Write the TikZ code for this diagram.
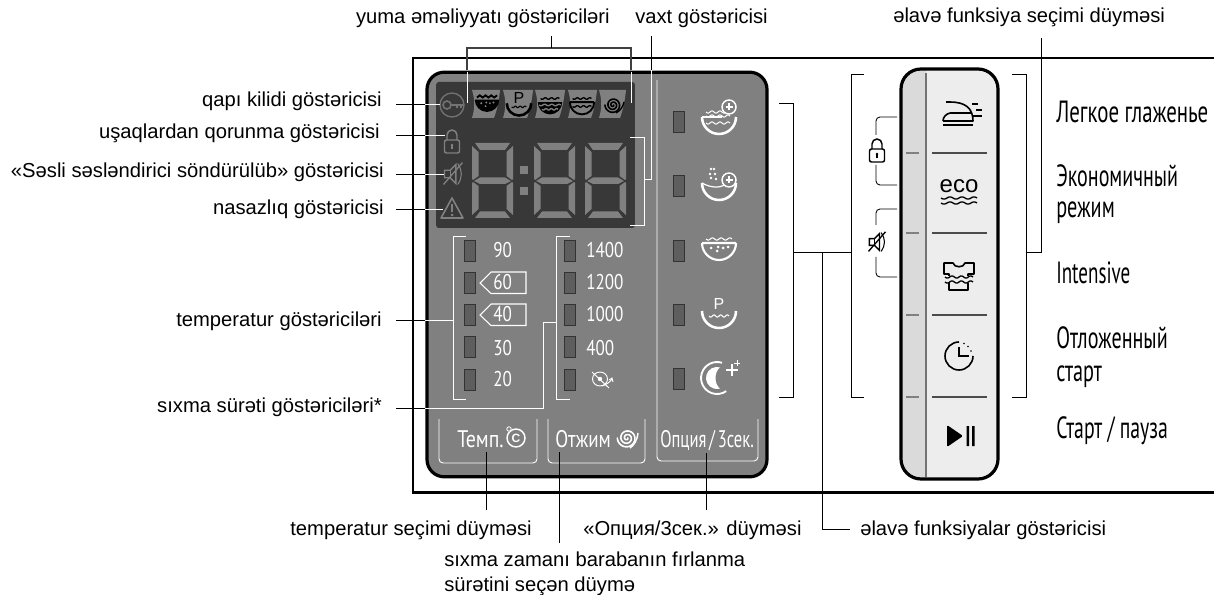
\documentclass[tikz,border=0pt]{standalone}
\usepackage{fontspec}
\usepackage{graphicx}
\setmainfont{Liberation Sans}
\newfontfamily\cond{PT Sans}
\newcommand{\nar}[2][0.68]{\scalebox{#1}[1]{\cond #2}}
\newcommand{\wv}[4][]{\draw[#1] plot[domain=0:1,samples=31] ({#2+#4*\x},{#3+1.1*sin(3*360*\x)});}
\definecolor{panelgray}{HTML}{808080}
\definecolor{dispdark}{HTML}{383838}
\definecolor{ledgray}{HTML}{5E5E5E}
\definecolor{btnlight}{HTML}{EDEDED}
\definecolor{btnstrip}{HTML}{DADADA}
\tikzset{
 lbl/.style={font=\fontsize{15.15pt}{17pt}\selectfont,inner sep=0pt,text=black},
 ln/.style={draw=black,line width=0.65pt},
 wln/.style={draw=white,line width=0.7pt},
 led/.style={draw=black!80,fill=ledgray,line width=0.7pt,minimum width=8.5pt,minimum height=15.5pt,inner sep=0pt},
 num/.style={font=\fontsize{16pt}{16pt}\selectfont,text=white,inner sep=0pt,anchor=base west},
 rlab/.style={font=\fontsize{23pt}{25pt}\selectfont,inner sep=0pt,anchor=base west,text=black},
 seg/.style={fill=panelgray,draw=none},
 pics/digit/.style={code={
  \fill[seg] (3,0)--(38,0)--(33,7)--(8,7)--cycle;
  \fill[seg] (0,3)--(6.5,9)--(6.5,33)--(1,37)--(0,36)--cycle;
  \fill[seg] (41,3)--(34.5,9)--(34.5,33)--(40,37)--(41,36)--cycle;
  \fill[seg] (2,38)--(8,34.5)--(33,34.5)--(39,38)--(33,41)--(8,41)--cycle;
  \fill[seg] (0,40)--(1,39)--(6.5,43)--(6.5,66)--(0,72)--cycle;
  \fill[seg] (41,40)--(40,39)--(34.5,43)--(34.5,66)--(41,72)--cycle;
  \fill[seg] (3,75)--(38,75)--(33,68.5)--(8,68.5)--cycle;
 }},
 pics/washplus/.style={code={
  \draw[line width=1.9pt] (17,-5) arc (0:180:17);
  \draw[line width=0.9pt] (-17,-5)--(3,-5);
  \foreach \yy in {-10,-6,1}{\wv[line width=.8pt]{-13}{\yy}{24}}
  \draw[line width=1.1pt,fill=panelgray] (10,-15) circle (7);
  \draw[line width=1pt] (6.5,-15)--(13.5,-15) (10,-18.5)--(10,-11.5);
 }},
 pics/drainplus/.style={code={
  \draw[line width=1.9pt] (17,-3) arc (0:180:17);
  \draw[line width=0.9pt] (-17,-3) .. controls (-8,2) and (0,2) .. (6,-1);
  \foreach \a/\b in {-8/-17,-5/-17,-9/-12,-4/-12,-8/-8,-3/-7}{\fill (\a,\b) circle (1.4);}
  \draw[line width=1.1pt,fill=panelgray] (10,-6) circle (7);
  \draw[line width=1pt] (6.5,-6)--(13.5,-6) (10,-9.5)--(10,-2.5);
 }},
 pics/soak/.style={code={
  \draw[line width=1.6pt] (17,-8)--(-17,-8) (17,-8) arc (0:180:17);
  \wv[line width=.8pt]{-13}{-12}{26}
  \foreach \a/\b in {-8/-3,-2/0,4/-3,9/-4,-1/-4}{\fill (\a,\b) circle (1.5);}
 }},
 pics/soakf/.style={code={
  \fill (17,-6)--(-17,-6) arc (180:0:17);
  \draw[line width=1.4pt] (-14,-9)--(-10,-12)--(-6,-9)--(-2,-12)--(2,-9)--(6,-12)--(10,-9)--(14,-12);
  \foreach \a/\b in {-8/-1,-2/3,4/-1,9/-2,-1/-2}{\fill[panelgray] (\a,\b) circle (1.5);}
 }},
 pics/ptub/.style={code={
  \draw[line width=1.9pt] (17,-1) arc (0:180:17);
  \wv[line width=.8pt]{-10}{4}{20}
  \node[font=\fontsize{12pt}{12pt}\selectfont,inner sep=0pt] at (0,-8) {P};
 }},
 pics/washf/.style={code={
  \fill (17,-4)--(-17,-4) arc (180:0:17);
  \wv[line width=1pt]{-13}{-9}{26}
  \wv[line width=1pt,panelgray]{-15}{0}{30}
  \wv[line width=1pt,panelgray]{-11}{6}{22}
 }},
 pics/washo/.style={code={
  \draw[line width=1.4pt] (17,-4)--(-17,-4) (17,-4) arc (0:180:17);
  \wv[line width=1pt]{-13}{-9}{26}
  \wv[line width=1pt]{-13}{2}{26}
 }},
 pics/spiral/.style={code={
  \draw[line width=1.2pt,line cap=round] plot[domain=0:900,samples=90] ({(1+\x/70)*cos(\x)},{(1+\x/70)*sin(\x)});
 }},
 pics/moon/.style={code={
  \draw[line width=1.4pt] (5,-15.2) arc (-72:-305:16);
  \fill (3,-10.6) arc (-74:-286:11) .. controls (-3,6) and (-3,-6) .. cycle;
  \draw[line width=.8pt] (9,-8)--(21,-8) (15,-14)--(15,-2);
  \draw[line width=.6pt] (17,-15)--(23,-15) (20,-18)--(20,-12);
 }},
 pics/lockicon/.style={code={
  \draw[line width=1.1pt,rounded corners=1.5pt] (-7.5,0) rectangle (7.5,13);
  \draw[line width=1.1pt] (-5,0)--(-5,-5) arc (180:360:5) --(5,0);
  \fill (0,5) circle (1.3); \fill (-0.6,5) rectangle (0.6,9);
 }},
 pics/muteicon/.style={code={
  \draw[line width=1pt] (-9,-4)--(-3,-4)--(3,-10)--(3,10)--(-3,4)--(-9,4)--cycle;
  \draw[line width=.8pt] (-3,-4)--(-3,4);
  \draw[line width=.8pt] (5,-11) .. controls (10,-4) and (10,4) .. (5,11);
  \draw[line width=1pt] (-10,11)--(10,-12);
 }},
}
\begin{document}
\begin{tikzpicture}[x=0.75pt,y=-0.75pt]
\useasboundingbox (0,0) rectangle (1214,595);
\fill[white] (0,0) rectangle (1214,595);
% frame
\coordinate (fTR) at (1214,58); \coordinate (fTL) at (413,58); \coordinate (fBL) at (413,492.5); \coordinate (fBR) at (1214,492.5);
\draw[line width=1.7pt,black] (fTR)--(fTL)--(fBL)--(fBR);
% panel
\node[draw=black,line width=2.4pt,fill=panelgray,rounded corners=13pt,minimum width=255pt,minimum height=303.5pt,inner sep=0pt] (panel) at (597,274.5) {};
\node[fill=dispdark,rounded corners=2pt,minimum width=149pt,minimum height=109.5pt,inner sep=0pt] (disp) at (535.5,155) {};
% tabs
\foreach \a/\b in {472/500,503/533,535/565,568/597,599/626}{
 \fill[panelgray] (\a,90)--(\b,90) .. controls (\b-1,100) and (\b-3,110) .. (\b-6,118)--(\a,118) .. controls (\a+3,108) and (\a+3,100) .. (\a,90)--cycle;}
\pic[black,scale=.72] at (487,104) {soakf};
\pic[black,scale=.72] at (519,104) {ptub};
\pic[black,scale=.72] at (550,105) {washf};
\pic[black,scale=.72] at (582,105) {washo};
\pic[black,scale=.58] at (613,105) {spiral};
\draw[black,line width=1pt] (616,113) .. controls (620,111) and (623,107) .. (624,102);
% digits
\pic at (472,143) {digit};
\pic at (534,143) {digit};
\pic at (585,143) {digit};
\fill[panelgray] (520,166) rectangle (528,174);
\fill[panelgray] (520,187) rectangle (528,195);
% status icons
\draw[color=panelgray!110,line width=1pt] (452,105) circle (12);
\draw[color=panelgray!110,line width=1.2pt] (447,105) circle (4);
\draw[color=panelgray!110,line width=1.2pt] (451,105)--(463,105) (457,105)--(457,108) (461,105)--(461,108);
\pic[color=panelgray] at (452,140) {lockicon};
\pic[color=panelgray,scale=.95] at (453,174) {muteicon};
\draw[color=panelgray,line width=1.2pt,line join=round] (452,198)--(463,218)--(441,218)--cycle;
\fill[color=panelgray] (451,204) rectangle (453.4,212);
\fill[color=panelgray] (452.2,215) circle (1.5);
% LEDs
\foreach \yy/\nn in {251/a,283/b,315/c,347/d,380/e}{
 \node[led] (t\nn) at (470,\yy) {};
 \node[led] (s\nn) at (570,\yy) {};}
\foreach \yy/\nn in {122/a,186/b,251/c,315/d,379/e}{
 \node[led] (o\nn) at (679,\yy) {};}
% temperature text
\node[num] (t90) at (493,258) {\nar[0.8]{90}};
\node[num] (t60) at (493,290) {\nar[0.8]{60}};
\node[num] (t40) at (493,322) {\nar[0.8]{40}};
\node[num] (t30) at (493,355) {\nar[0.8]{30}};
\node[num] (t20) at (493,387) {\nar[0.8]{20}};
\draw[white,line width=.8pt] (491,272)--(526,272)--(526,293.5)--(491,293.5)--(480,283)--cycle;
\draw[white,line width=.8pt] (491,304)--(526,304)--(526,325.5)--(491,325.5)--(480,315)--cycle;
\node[num] (s1400) at (586,258) {\nar[0.8]{1400}};
\node[num] (s1200) at (586,290) {\nar[0.8]{1200}};
\node[num] (s1000) at (586,322) {\nar[0.8]{1000}};
\node[num] (s400) at (586,355) {\nar[0.8]{400}};
% no-spin icon
\begin{scope}[white,line width=.7pt]
\draw (600,379) ellipse (7.5 and 7);
\fill (600,379) circle (2.2);
\draw (592,372)--(609,388);
\draw (602,386) .. controls (606,385) and (610,382) .. (612,379);
\draw (609,380)--(612,378)--(613,382);
\end{scope}
% button boxes
\draw[wln,rounded corners=3pt] (439,419)--(439,463)--(537,463)--(537,419);
\draw[wln,rounded corners=3pt] (548,419)--(548,463)--(645,463)--(645,419);
\draw[wln,rounded corners=3pt] (657,80)--(657,461)--(758,461)--(758,419);
\node[num] (tempb) at (457,447) {\nar[0.83]{\fontsize{18pt}{18pt}\selectfont Темп.}};
\draw[white,line width=1.1pt] (516,438) circle (9);
\node[white,font=\bfseries\fontsize{9pt}{9pt}\selectfont,inner sep=0pt] (cc) at (516,438.5) {C};
\fill[panelgray] (509,429) circle (2.6);
\draw[white,line width=.6pt] (509,429) circle (2.2);
\node[num] (spinb) at (555,447) {\nar[0.79]{\fontsize{18pt}{18pt}\selectfont Отжим}};
\pic[white,scale=.7] at (627,438) {spiral};
\draw[white,line width=1.1pt] (630,448) .. controls (634,445) and (637,441) .. (638,433);
\node[num] (optb) at (660,447) {\nar[0.69]{\fontsize{18pt}{18pt}\selectfont Опция\,/\,3сек.}};
% option icons
\pic[white] at (719,122) {washplus};
\pic[white] at (719,186) {drainplus};
\pic[white] at (719,251) {soak};
\pic[white] at (719,312) {ptub};
\pic[white] at (717,378) {moon};
% button panel
\node[draw=none,minimum width=72.75pt,minimum height=307.5pt,inner sep=0pt,fill=btnlight,rounded corners=15pt] (btn) at (949.5,274) {};
\begin{scope}
\clip[rounded corners=15pt] (901,69) rectangle (998,479);
\fill[btnstrip] (901,69) rectangle (926,479);
\end{scope}
\draw[gray!90!black,line width=0.9pt] (926,73)--(926,477);
\node[draw=black,line width=2.4pt,minimum width=72.75pt,minimum height=307.5pt,inner sep=0pt,rounded corners=15pt] (btnb) at (949.5,274) {};
\foreach \yy in {153,233,315,397}{
 \draw[color=black!70,line width=2pt] (932,\yy)--(987,\yy);
 \draw[color=panelgray,line width=2pt] (906,\yy)--(919,\yy);}
% iron
\draw[line width=1.2pt,black,line join=round] (943,121)--(973,121) .. controls (973,108) and (965,102) .. (950,102)--(946,102);
\draw[line width=1.2pt,black] (950,113) .. controls (946,114) and (943,117) .. (943,121);
\draw[line width=1.2pt,black] (950,113)--(972,113);
\draw[line width=1.2pt,black] (943,125)--(973,125);
\draw[line width=1.2pt,black] (972,104)--(978,104) (976,110)--(982,110) (972,116)--(982,116);
% eco
\node[font=\fontsize{18pt}{18pt}\selectfont,inner sep=0pt,anchor=base,text=black] (eco) at (959,193) {eco};
\wv[black,line width=1pt]{941}{198}{36}
\wv[black,line width=1pt]{941}{203}{36}
% shirt
\draw[black,line width=1.2pt,line join=round] (944,263)--(953,263) .. controls (954,268) and (964,268) .. (965,263)--(974,263)--(974,274)--(968,274)--(968,290)--(949,290)--(949,274)--(944,274)--cycle;
\fill[btnlight] (943,276) rectangle (975,283);
\wv[black,line width=1pt]{945}{277}{28}
\wv[black,line width=1pt]{945}{282}{28}
% clock
\draw[black,line width=1.2pt] (959,342) arc (-90:-360:14);
\draw[black,line width=1.1pt] (959,347)--(959,356)--(969,356);
\fill[black] (964,343.5) circle (.9) (968,346.5) circle (.9) (971,351) circle (.9);
% play
\fill[black,rounded corners=1pt] (947,425)--(963,436)--(947,447)--cycle;
\fill[black] (966.5,426) rectangle (969,446) (972,426) rectangle (974.5,446);
% lock/mute brackets
\draw[ln,rounded corners=3pt] (897,117)--(876,117)--(876,135);
\draw[ln,rounded corners=3pt] (876,165)--(876,185)--(897,185);
\pic[black] at (877,149) {lockicon};
\draw[ln,rounded corners=3pt] (897,209)--(876,209)--(876,225);
\draw[ln,rounded corners=3pt] (876,257)--(876,277)--(897,277);
\pic[black,scale=.85] at (877,242) {muteicon};
% brackets
\coordinate (bL1) at (864,74); \coordinate (bL2) at (851,74); \coordinate (bL3) at (851,397); \coordinate (bL4) at (864,397);
\draw[ln] (bL1)--(bL2)--(bL3)--(bL4);
\coordinate (bR1) at (1012,74); \coordinate (bR2) at (1026,74); \coordinate (bR3) at (1026,397); \coordinate (bR4) at (1012,397);
\draw[ln] (bR1)--(bR2)--(bR3)--(bR4);
\coordinate (bO1) at (779,103); \coordinate (bO2) at (793,103); \coordinate (bO3) at (793,397); \coordinate (bO4) at (779,397);
\draw[ln] (bO1)--(bO2)--(bO3)--(bO4);
\coordinate (midO) at (793,252); \coordinate (midL) at (851,252); \coordinate (jn) at (822,252);
\draw[ln] (midO)--(midL);
\coordinate (midR) at (1026,252); \coordinate (rUp) at (1041,252); \coordinate (rTop) at (1041,38);
\draw[ln] (midR)--(rUp)--(rTop);
% white brackets
\draw[wln] (466,236)--(453,236)--(453,399)--(466,399);
\draw[wln] (570,236)--(556,236)--(556,399)--(570,399);
\draw[wln] (630,137)--(644,137)--(644,225)--(630,225);
% labels top
\node[lbl,anchor=base east] (ltop1) at (610,24) {yuma əməliyyatı göstəriciləri};
\node[lbl,anchor=base west] (ltop2) at (635,24) {vaxt göstəricisi};
\node[lbl,anchor=base west] (ltop3) at (893,23) {əlavə funksiya seçimi düyməsi};
% top bracket
\coordinate (tb1) at (467,48); \coordinate (tb2) at (631,48); \coordinate (tbm) at (551,48); \coordinate (tbt) at (551,36);
\draw[draw=black!75,line width=.9pt] (467,70)--(tb1)--(tb2)--(631,70);
\draw[ln] (tbt)--(tbm);
\draw[wln] (467,72)--(467,103);
\draw[wln] (631,72)--(631,103);
% vaxt
\coordinate (vt) at (651,36); \coordinate (v1) at (651,70); \coordinate (v2) at (651,179); \coordinate (v3) at (644,179);
\draw[ln] (vt)--(v1);
\draw[wln] (v1)--(v2)--(v3);
% left labels
\node[lbl,anchor=base east] (l1) at (382,107) {qapı kilidi göstəricisi};
\node[lbl,anchor=base east] (l2) at (380,139) {uşaqlardan qorunma göstəricisi};
\node[lbl,anchor=base east] (l3) at (384,178) {«Səsli səsləndirici söndürülüb» göstəricisi};
\node[lbl,anchor=base east] (l4) at (384,215) {nasazlıq göstəricisi};
\node[lbl,anchor=base east] (l5) at (382,326) {temperatur göstəriciləri};
\node[lbl,anchor=base east] (l6) at (382,412) {sıxma sürəti göstəriciləri*};
\foreach \yy/\xe/\nn in {104/440/a,135/445/b,174/444/c,209/443/d}{
 \coordinate (p\nn) at (396,\yy); \coordinate (q\nn) at (425,\yy); \coordinate (r\nn) at (\xe,\yy);
 \draw[ln] (p\nn)--(q\nn); \draw[wln] (q\nn)--(r\nn);}
\coordinate (pt) at (396,320); \coordinate (qt) at (425,320); \coordinate (rt) at (453,320);
\draw[ln] (pt)--(qt); \draw[wln] (qt)--(rt);
\coordinate (ps) at (396,408); \coordinate (qs) at (425,408); \coordinate (rs) at (543,408); \coordinate (us) at (543,322); \coordinate (vs) at (556,322);
\draw[ln] (ps)--(qs); \draw[wln] (qs)--(rs)--(us)--(vs);
% bottom connectors
\coordinate (b1a) at (486,452); \coordinate (b1b) at (486,510);
\coordinate (b2a) at (559,452); \coordinate (b2b) at (559,543);
\coordinate (b3a) at (706,453); \coordinate (b3b) at (706,510);
\coordinate (b4a) at (850,529); \coordinate (b4b) at (822,529);
\draw[ln] (b1a)--(b1b);
\draw[ln] (b2a)--(b2b);
\draw[ln] (b3a)--(b3b);
\draw[ln] (jn)--(b4b)--(b4a);
% bottom labels
\node[lbl,anchor=base east] (bl1) at (532,535) {temperatur seçimi düyməsi};
\node[lbl,anchor=base west] (bl2) at (583,535) {«Опция/3сек.» düyməsi};
\node[lbl,anchor=base west] (bl3) at (860,535) {əlavə funksiyalar göstəricisi};
\node[lbl,anchor=base west] (bl4) at (444,566) {sıxma zamanı barabanın fırlanma};
\node[lbl,anchor=base west] (bl5) at (444,591) {sürətini seçən düymə};
% right labels
\node[rlab] (ra) at (1056,123) {\nar{Легкое глаженье}};
\node[rlab] (rb) at (1056,187) {\nar[0.653]{Экономичный}};
\node[rlab] (rc) at (1056,218) {\nar[0.66]{режим}};
\node[rlab] (rd) at (1056,284) {\nar[0.62]{Intensive}};
\node[rlab] (re) at (1056,349) {\nar[0.656]{Отложенный}};
\node[rlab] (rf) at (1056,381) {\nar[0.66]{старт}};
\node[rlab] (rg) at (1056,438) {\nar[0.645]{Старт / пауза}};
\end{tikzpicture}
\end{document}
